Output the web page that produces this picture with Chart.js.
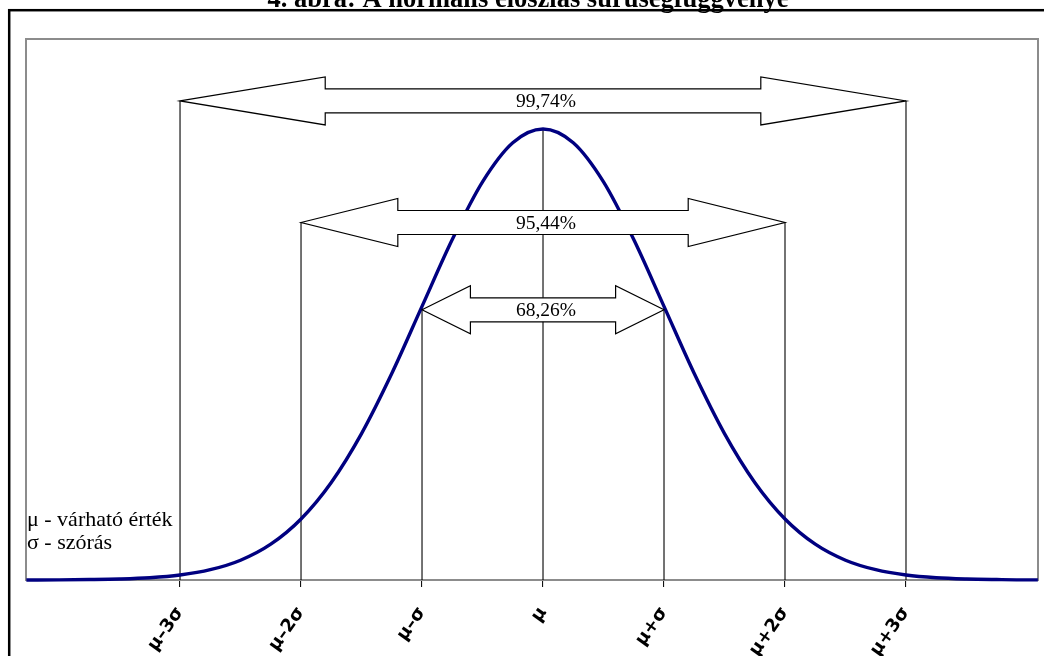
<!DOCTYPE html>
<html lang="hu">
<head>
<meta charset="utf-8">
<title>A normális eloszlás sűrűségfüggvénye</title>
<script src="https://cdn.jsdelivr.net/npm/chart.js@4.4.0/dist/chart.umd.min.js"></script>
<style>
  body { margin: 0; background: #fff; }
  #wrap { width: 1044px; height: 656px; position: relative; }
</style>
</head>
<body>
<div id="wrap"><canvas id="myChart"></canvas></div>
<script>
  // values, x in sigma units
  const curveX = [-4.27, -4, -3.75, -3.5, -3.25, -3, -2.75, -2.5, -2.25, -2, -1.75, -1.5, -1.25, -1, -0.75, -0.5, -0.25, 0,
                  0.25, 0.5, 0.75, 1, 1.25, 1.5, 1.75, 2, 2.25, 2.5, 2.75, 3, 3.25, 3.5, 3.75, 4, 4.09];
  const curveY = [0.0000, 0.0001, 0.0004, 0.0009, 0.0020, 0.0044, 0.0091, 0.0175, 0.0317, 0.0540, 0.0863, 0.1295, 0.1826, 0.2420, 0.3011, 0.3521, 0.3867, 0.3989,
                  0.3867, 0.3521, 0.3011, 0.2420, 0.1826, 0.1295, 0.0863, 0.0540, 0.0317, 0.0175, 0.0091, 0.0044, 0.0020, 0.0009, 0.0004, 0.0001, 0.0001];

  const tickVals = [-3, -2, -1, 0, 1, 2, 3];
  const tickLabels = ['μ–3σ', 'μ–2σ', 'μ–σ', 'μ', 'μ+σ', 'μ+2σ', 'μ+3σ'];
  // how high each vertical guide line reaches
  const lineTops = [0.4237, 0.3162, 0.239, 0.3989, 0.239, 0.3162, 0.4237];

  const arrowFrom = [-3, -2, -1];
  const arrowTo = [3, 2, 1];
  const arrowY = [0.4237, 0.3162, 0.239];
  const arrowLabels = ['99,74%', '95,44%', '68,26%'];

  const noteLines = ['μ - várható érték', 'σ - szórás'];
  const titleText = '4. ábra: A normális eloszlás sűrűségfüggvénye';

  var curveData = curveX.map((x, i) => ({x: x, y: curveY[i]}));

  var datasets = [{
    label: 'curve',
    data: curveData,
    borderColor: '#000080',
    borderWidth: 3.4,
    pointRadius: 0,
    cubicInterpolationMode: 'monotone',
    clip: false,
    order: 0
  }];
  tickVals.forEach((v, i) => {
    datasets.push({
      label: 'line' + i,
      data: [{x: v, y: 0}, {x: v, y: lineTops[i]}],
      borderColor: '#000',
      borderWidth: 1.1,
      pointRadius: 0,
      order: 1
    });
  });

  const decor = {
    id: 'decor',
    beforeDraw(chart) {
      const ctx = chart.ctx;
      ctx.save();
      ctx.fillStyle = '#fff';
      ctx.fillRect(0, 0, chart.width, chart.height);
      // title, cut at the top like in the original
      ctx.fillStyle = '#000';
      ctx.font = 'bold 26.5px "Liberation Serif"';
      ctx.textAlign = 'center';
      ctx.textBaseline = 'alphabetic';
      ctx.fillText(titleText, 528, 7);
      // outer frame
      ctx.strokeStyle = '#000';
      ctx.lineWidth = 2.5;
      ctx.strokeRect(9.2, 10.2, 1200, 900);
      ctx.restore();
    },
    beforeDatasetsDraw(chart) {
      const ctx = chart.ctx, a = chart.chartArea;
      ctx.save();
      ctx.strokeStyle = '#8c8c8c';
      ctx.lineWidth = 2;
      ctx.strokeRect(a.left, a.top, a.right - a.left, a.bottom - a.top);
      ctx.restore();
    },
    afterDatasetsDraw(chart) {
      const ctx = chart.ctx;
      const xs = chart.scales.x, ys = chart.scales.y;
      ctx.save();
      for (var i = 0; i < arrowFrom.length; i++) {
        var xl = xs.getPixelForValue(arrowFrom[i]);
        var xr = xs.getPixelForValue(arrowTo[i]);
        var yc = ys.getPixelForValue(arrowY[i]);
        var h = (xr - xl) * 0.2;
        var hh = 24, sh = 12;
        ctx.beginPath();
        ctx.moveTo(xl, yc);
        ctx.lineTo(xl + h, yc - hh);
        ctx.lineTo(xl + h, yc - sh);
        ctx.lineTo(xr - h, yc - sh);
        ctx.lineTo(xr - h, yc - hh);
        ctx.lineTo(xr, yc);
        ctx.lineTo(xr - h, yc + hh);
        ctx.lineTo(xr - h, yc + sh);
        ctx.lineTo(xl + h, yc + sh);
        ctx.lineTo(xl + h, yc + hh);
        ctx.closePath();
        ctx.fillStyle = '#fff';
        ctx.fill();
        ctx.strokeStyle = '#000';
        ctx.lineWidth = 1.2;
        ctx.stroke();

        ctx.fillStyle = '#000';
        ctx.font = '19.5px "Liberation Serif"';
        ctx.textAlign = 'center';
        ctx.textBaseline = 'middle';
        ctx.fillText(arrowLabels[i], xs.getPixelForValue(0) + 3, yc + 1);
      }
      // note box
      ctx.font = '22px "Liberation Serif"';
      ctx.textAlign = 'left';
      ctx.textBaseline = 'middle';
      ctx.fillStyle = '#000';
      ctx.fillText(noteLines[0], 27, 520);
      ctx.fillText(noteLines[1], 27, 543);
      ctx.restore();
    }
  };

  const config = {
    type: 'line',
    data: { datasets: datasets },
    options: {
      responsive: true,
      maintainAspectRatio: false,
      animation: false,
      layout: { padding: { left: 26, right: 6, top: 39, bottom: 0 } },
      scales: {
        x: {
          type: 'linear',
          min: -4.273,
          max: 4.091,
          afterBuildTicks: s => { s.ticks = tickVals.map(v => ({value: v})); },
          afterFit: s => { s.height = 76; },
          border: { display: false },
          grid: { drawOnChartArea: false, drawTicks: true, tickLength: 7, color: '#111', lineWidth: 1.1 },
          ticks: {
            autoSkip: false,
            minRotation: 55,
            maxRotation: 55,
            padding: 16,
            color: '#000',
            font: { family: 'DejaVu Sans', weight: 'bold', size: 18 },
            callback: v => tickLabels[tickVals.indexOf(v)]
          }
        },
        y: {
          display: false,
          min: 0,
          max: 0.4785
        }
      },
      plugins: {
        legend: { display: false },
        tooltip: { enabled: false }
      }
    },
    plugins: [decor]
  };

  var myChart = new Chart(document.getElementById('myChart'), config);
</script>
</body>
</html>
